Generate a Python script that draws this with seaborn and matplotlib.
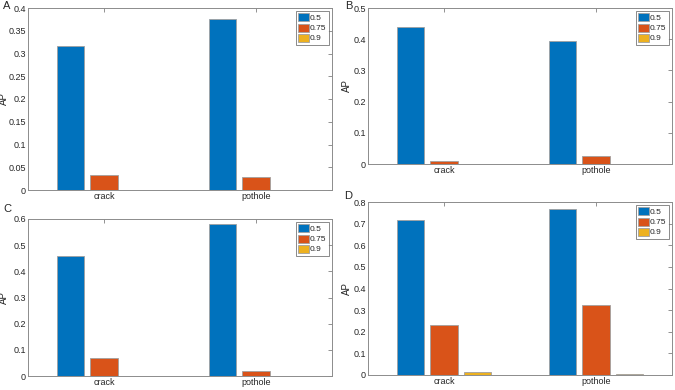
import pandas as pd
import matplotlib
matplotlib.use('Agg')
from matplotlib import pyplot as plt
import seaborn as sns

sns.set_style('white')
plt.rcParams['font.family'] = ['Liberation Sans', 'DejaVu Sans']

classes = ['crack', 'pothole']
iou_levels = ['0.5', '0.75', '0.9']

# AP values per panel, one list per IoU threshold (crack, pothole)
ap_a_05 = [0.317, 0.375]
ap_a_075 = [0.033, 0.029]
ap_a_09 = [0.0005, 0.0004]

ap_b_05 = [0.440, 0.395]
ap_b_075 = [0.010, 0.025]
ap_b_09 = [0.0005, 0.0005]

ap_c_05 = [0.460, 0.580]
ap_c_075 = [0.070, 0.018]
ap_c_09 = [0.001, 0.001]

ap_d_05 = [0.716, 0.768]
ap_d_075 = [0.230, 0.322]
ap_d_09 = [0.012, 0.005]

colors = ['#0072BD', '#D95319', '#EDB120']


def make_df(v05, v075, v09):
    rows = []
    for vals, iou in zip([v05, v075, v09], iou_levels):
        for cls, v in zip(classes, vals):
            rows.append([cls, iou, v])
    return pd.DataFrame(rows, columns=['Class', 'IoU', 'AP'])


panels = [
    ('A', make_df(ap_a_05, ap_a_075, ap_a_09), 0.4, 0.05, [28, 8, 332, 190], (3, 6), 9),
    ('B', make_df(ap_b_05, ap_b_075, ap_b_09), 0.5, 0.1, [368, 8, 672, 164], (345, 6), 352),
    ('C', make_df(ap_c_05, ap_c_075, ap_c_09), 0.6, 0.1, [28, 219, 332, 376], (3, 209), 9),
    ('D', make_df(ap_d_05, ap_d_075, ap_d_09), 0.8, 0.1, [368, 202, 672, 375], (344, 196), 352),
]

W, H = 675, 390
fig = plt.figure(figsize=(W / 100, H / 100), dpi=100)

for letter, df, ymax, ystep, box, lpos, ylab_x in panels:
    x0, y0, x1, y1 = box
    ax = fig.add_axes([x0 / W, 1 - y1 / H, (x1 - x0) / W, (y1 - y0) / H])
    sns.barplot(data=df, x='Class', y='AP', hue='IoU', hue_order=iou_levels,
                palette=colors, saturation=1, width=0.66, gap=0.18,
                edgecolor='#a0a0a0', linewidth=0.6, ax=ax, errorbar=None)
    ax.set_xlim(-0.5, 1.5)
    ax.set_ylim(0, ymax)
    n = int(round(ymax / ystep))
    ax.set_yticks([round(i * ystep, 2) for i in range(n + 1)])
    ax.set_yticklabels(['0'] + [('%g' % round(i * ystep, 2)) for i in range(1, n + 1)])
    ax.set_xlabel('')
    ax.set_ylabel('AP', fontsize=7, color='#262626')
    ax.yaxis.set_label_coords((ylab_x - x0) / (x1 - x0), 0.5)
    ax.tick_params(direction='in', length=3, width=0.6, colors='#808080',
                   labelcolor='#262626', labelsize=6.5, top=True, right=True, pad=1.5)
    for sp in ax.spines.values():
        sp.set_color('#8c8c8c')
        sp.set_linewidth(0.7)
    leg = ax.legend(loc='upper right', fontsize=6, frameon=True, fancybox=False,
                    handlelength=1.4, handleheight=1.1, handletextpad=0.1,
                    borderpad=0.25, labelspacing=0.15, borderaxespad=0.4)
    leg.get_frame().set_edgecolor('#555555')
    leg.get_frame().set_linewidth(0.6)
    fig.text(lpos[0] / W, 1 - lpos[1] / H, letter, fontsize=8, color='#262626',
             ha='left', va='center')

fig.savefig('out.png', dpi=100)
